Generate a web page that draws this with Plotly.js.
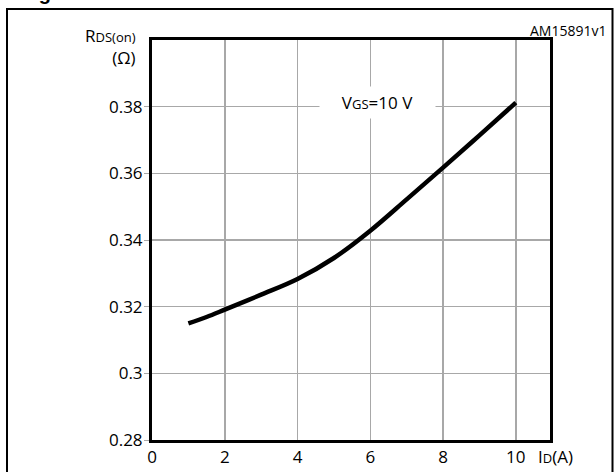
<!DOCTYPE html>
<html>
<head>
<meta charset="utf-8">
<script src="https://cdn.plot.ly/plotly-3.0.1.min.js"></script>
<style>html,body{margin:0;padding:0;background:#fff;}#chart{width:615px;height:472px;}</style>
</head>
<body>
<div id="chart"></div>
<script>
// Drain current I_D (A)
var idA = [1, 1.5, 2, 3, 4, 5, 6, 7, 8, 9, 10];
// Static drain-source on-resistance R_DS(on) (Ohm) at VGS = 10 V
var rdsOn = [0.3150, 0.3169, 0.3191, 0.3236, 0.3283, 0.3346, 0.3428, 0.3522, 0.3617, 0.3714, 0.3812];
var xTickVals = [0, 2, 4, 6, 8, 10];
var xTickText = ['0', '2', '4', '6', '8', '10'];
var yTickVals = [0.28, 0.30, 0.32, 0.34, 0.36, 0.38];
var yTickText = ['0.28', '0.3', '0.32', '0.34', '0.36', '0.38'];

var FONT = 'Open Sans, Liberation Sans, sans-serif';
var L = 152, R = 65, T = 40, B = 32;
var W = 615, H = 472;
var pw = W - L - R, ph = H - T - B;
function px(x){ return (x - L) / pw; }
function py(y){ return (H - B - y) / ph; }

var trace = {
  x: idA, y: rdsOn, type: 'scatter', mode: 'lines',
  line: {color: '#000', width: 4.5, shape: 'spline', smoothing: 1},
  hoverinfo: 'skip'
};

var layout = {
  width: W, height: H,
  margin: {l: L, r: R, t: T, b: B, pad: 0},
  paper_bgcolor: '#fff', plot_bgcolor: '#fff',
  showlegend: false,
  font: {family: FONT, size: 17, color: '#000'},
  xaxis: {
    range: [0, 10.94], tickvals: xTickVals, ticktext: xTickText,
    showgrid: true, gridcolor: '#a8a8a8', gridwidth: 1.5,
    zeroline: false, showline: true, mirror: true, linecolor: '#000', linewidth: 3,
    ticks: '', tickfont: {family: FONT, size: 17, color: '#000'}, fixedrange: true
  },
  yaxis: {
    range: [0.28, 0.40], tickvals: yTickVals, ticktext: yTickText,
    showgrid: true, gridcolor: '#a8a8a8', gridwidth: 1.5,
    zeroline: false, showline: true, mirror: true, linecolor: '#000', linewidth: 3,
    ticks: 'outside', ticklen: 5, tickcolor: '#a8a8a8', tickwidth: 1,
    ticklabelstandoff: -2,
    tickfont: {family: FONT, size: 17, color: '#000'}, fixedrange: true
  },
  shapes: [
    {type: 'rect', xref: 'paper', yref: 'paper', x0: px(7), x1: px(612.5), y0: py(9), y1: -0.3,
     line: {color: '#000', width: 2}, fillcolor: 'rgba(0,0,0,0)', layer: 'below'}
  ],
  annotations: [
    {xref: 'paper', yref: 'paper', x: px(138), y: py(46), xanchor: 'right', yanchor: 'middle',
     align: 'right', showarrow: false,
     text: 'R<span style="font-size:13px">DS(on)</span><br>(Ω)',
     font: {family: FONT, size: 17, color: '#000'}},
    {xref: 'paper', yref: 'paper', x: px(608), y: py(30), xanchor: 'right', yanchor: 'middle',
     showarrow: false, text: 'AM15891v1', font: {family: FONT, size: 14, color: '#000'}},
    {xref: 'paper', yref: 'paper', x: px(536), y: py(456), xanchor: 'left', yanchor: 'middle',
     showarrow: false, text: 'I<span style="font-size:13px">D</span>(A)',
     font: {family: FONT, size: 17, color: '#000'}},
    {xref: 'paper', yref: 'paper', x: px(377.5), y: py(102.5), xanchor: 'center', yanchor: 'middle',
     showarrow: false, width: 113, height: 29, bgcolor: '#fff',
     text: 'V<span style="font-size:13px">GS</span>=10 V',
     font: {family: FONT, size: 17, color: '#000'}},
    {xref: 'paper', yref: 'paper', x: px(19), y: py(6), xanchor: 'left', yanchor: 'bottom',
     showarrow: false, text: '<b>Figure</b>',
     font: {family: 'Liberation Sans, Arial, sans-serif', size: 20, color: '#000'}}
  ]
};

Plotly.newPlot('chart', [trace], layout, {displayModeBar: false, staticPlot: true});
</script>
</body>
</html>
